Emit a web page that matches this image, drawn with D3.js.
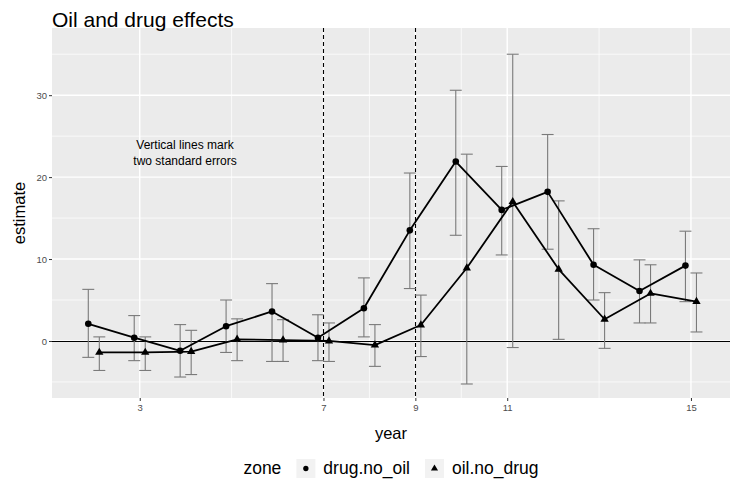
<!DOCTYPE html>
<html><head><meta charset="utf-8">
<script src="https://cdn.jsdelivr.net/npm/d3@7"></script>
<style>body{margin:0;background:#fff}svg{display:block}text{font-family:"Liberation Sans",Arial,sans-serif}</style>
</head><body>
<svg id="c" width="736" height="486"></svg>
<script>
const years = [2,3,4,5,6,7,8,9,10,11,12,13,14,15];
const drugEst = [2.1,0.4,-1.2,1.8,3.6,0.4,4.0,13.5,21.9,16.0,18.2,9.3,6.1,9.2];
const drugLo  = [-2.0,-2.4,-4.4,-1.4,-2.5,-2.4,0.5,6.4,12.9,10.5,11.2,5.0,2.2,4.8];
const drugHi  = [6.3,3.1,2.0,5.0,7.0,3.2,7.7,20.5,30.6,21.3,25.2,13.7,9.9,13.4];
const oilEst  = [-1.4,-1.4,-1.3,0.2,0.1,0.0,-0.5,1.95,8.9,17.0,8.75,2.65,5.8,4.8];
const oilLo   = [-3.6,-3.6,-4.1,-2.4,-2.5,-2.5,-3.1,-1.9,-5.25,-0.8,0.2,-0.9,2.2,1.1];
const oilHi   = [0.5,0.5,1.3,2.7,2.6,2.2,2.0,5.6,22.8,35.0,17.1,5.9,9.3,8.3];
const xTicks = [3,7,9,11,15];
const xMinor = [5,8,10,13];
const yTicks = [0,10,20,30];
const yMinor = [-5,5,15,25,35];
const seLines = [7,9];
const seriesNames = ["drug.no_oil","oil.no_drug"];
const dodge = 0.12;

const svg = d3.select("#c");
const L=52,R=730,T=28,B=398;
const x = d3.scaleLinear().domain([1.09,15.85]).range([L,R]);
const y = d3.scaleLinear().domain([-6.96,38.2]).range([B,T]);
const cy = v => Math.round(y(v))+0.5;

svg.append("rect").attr("x",L).attr("y",T).attr("width",R-L).attr("height",B-T).attr("fill","#ebebeb");
const g = svg.append("g");
yMinor.forEach(v=>g.append("line").attr("x1",L).attr("x2",R).attr("y1",y(v)).attr("y2",y(v)).attr("stroke","#fff").attr("stroke-width",0.7));
xMinor.forEach(v=>g.append("line").attr("y1",T).attr("y2",B).attr("x1",x(v)).attr("x2",x(v)).attr("stroke","#fff").attr("stroke-width",0.7));
yTicks.forEach(v=>g.append("line").attr("x1",L).attr("x2",R).attr("y1",y(v)).attr("y2",y(v)).attr("stroke","#fff").attr("stroke-width",1.4));
xTicks.forEach(v=>g.append("line").attr("y1",T).attr("y2",B).attr("x1",x(v)).attr("x2",x(v)).attr("stroke","#fff").attr("stroke-width",1.4));

// axes
const xa = svg.append("g").attr("transform",`translate(0,${B})`).call(d3.axisBottom(x).tickValues(xTicks).tickSize(3).tickPadding(3));
const ya = svg.append("g").attr("transform",`translate(${L},0)`).call(d3.axisLeft(y).tickValues(yTicks).tickSize(3).tickPadding(2));
[xa,ya].forEach(a=>{a.select(".domain").remove();a.selectAll("line").attr("stroke","#333");a.selectAll("text").attr("fill","#4d4d4d").style("font-size","9.5px").style("font-family","'Liberation Sans',Arial,sans-serif");});

// zero line
svg.append("line").attr("x1",L).attr("x2",R).attr("y1",cy(0)).attr("y2",cy(0)).attr("stroke","#000").attr("stroke-width",1.2);
// dashed se lines
seLines.forEach(v=>svg.append("line").attr("x1",Math.round(x(v))+0.5).attr("x2",Math.round(x(v))+0.5).attr("y1",T).attr("y2",B).attr("stroke","#000").attr("stroke-width",1.1).attr("stroke-dasharray","4,3"));

const series = [
  {name:seriesNames[0],est:drugEst,lo:drugLo,hi:drugHi,off:-dodge,shape:d3.symbolCircle},
  {name:seriesNames[1],est:oilEst,lo:oilLo,hi:oilHi,off:dodge,shape:d3.symbolTriangle}
];
const cap = 0.13;
series.forEach(s=>{
  const eb = svg.append("g").attr("stroke","#7a7a7a").attr("stroke-width",1.1).attr("fill","none");
  years.forEach((yr,i)=>{
    const xc = yr+s.off;
    eb.append("line").attr("x1",x(xc)).attr("x2",x(xc)).attr("y1",y(s.lo[i])).attr("y2",y(s.hi[i]));
    eb.append("line").attr("x1",x(xc-cap)).attr("x2",x(xc+cap)).attr("y1",y(s.lo[i])).attr("y2",y(s.lo[i]));
    eb.append("line").attr("x1",x(xc-cap)).attr("x2",x(xc+cap)).attr("y1",y(s.hi[i])).attr("y2",y(s.hi[i]));
  });
});
series.forEach(s=>{
  const line = d3.line().x((d,i)=>x(years[i]+s.off)).y(d=>y(d));
  svg.append("path").attr("d",line(s.est)).attr("fill","none").attr("stroke","#000").attr("stroke-width",1.8).attr("stroke-linejoin","round");
  svg.append("g").selectAll("path").data(s.est).join("path")
    .attr("transform",(d,i)=>`translate(${x(years[i]+s.off)},${y(d)})`)
    .attr("d",d3.symbol().type(s.shape).size(s.shape===d3.symbolCircle?34:30)).attr("fill","#000");
});

// annotation
const ann = svg.append("text").attr("text-anchor","middle").attr("fill","#000").style("font-size","12px");
ann.append("tspan").attr("x",185).attr("y",149).text("Vertical lines mark");
ann.append("tspan").attr("x",185).attr("y",165).text("two standard errors");

// titles
svg.append("text").attr("x",L).attr("y",27).style("font-size","21px").attr("fill","#000").text("Oil and drug effects");
svg.append("text").attr("x",(L+R)/2).attr("y",439).attr("text-anchor","middle").style("font-size","16.5px").text("year");
svg.append("text").attr("transform",`translate(25,${(T+B)/2}) rotate(-90)`).attr("text-anchor","middle").style("font-size","16.5px").text("estimate");

// legend (laid out from measured text widths, centred under panel)
const lg = svg.append("g");
const fs = "17.5px", ly = 474, box = 19, gap = 8, spacer = 15;
const zt = lg.append("text").attr("y",ly).style("font-size",fs).text("zone");
const keyDefs = [{shape:d3.symbolCircle,lab:seriesNames[0]},{shape:d3.symbolTriangle,lab:seriesNames[1]}];
const keyEls = keyDefs.map(k=>{
  const r = lg.append("rect").attr("width",box).attr("height",box).attr("y",ly-15).attr("fill","#f2f2f2");
  const p = lg.append("path").attr("d",d3.symbol().type(k.shape).size(22)).attr("fill","#000");
  const t = lg.append("text").attr("y",ly).style("font-size",fs).text(k.lab);
  return {r,p,t};
});
let total = zt.node().getComputedTextLength() + spacer;
keyEls.forEach((k,i)=>{ total += box + gap + k.t.node().getComputedTextLength() + (i<keyEls.length-1?spacer:0); });
let cx = (L+R)/2 - total/2;
zt.attr("x",cx); cx += zt.node().getComputedTextLength() + spacer;
keyEls.forEach(k=>{
  k.r.attr("x",cx);
  k.p.attr("transform",`translate(${cx+box/2},${ly-15+box/2})`);
  cx += box + gap;
  k.t.attr("x",cx);
  cx += k.t.node().getComputedTextLength() + spacer;
});
</script>
</body></html>
